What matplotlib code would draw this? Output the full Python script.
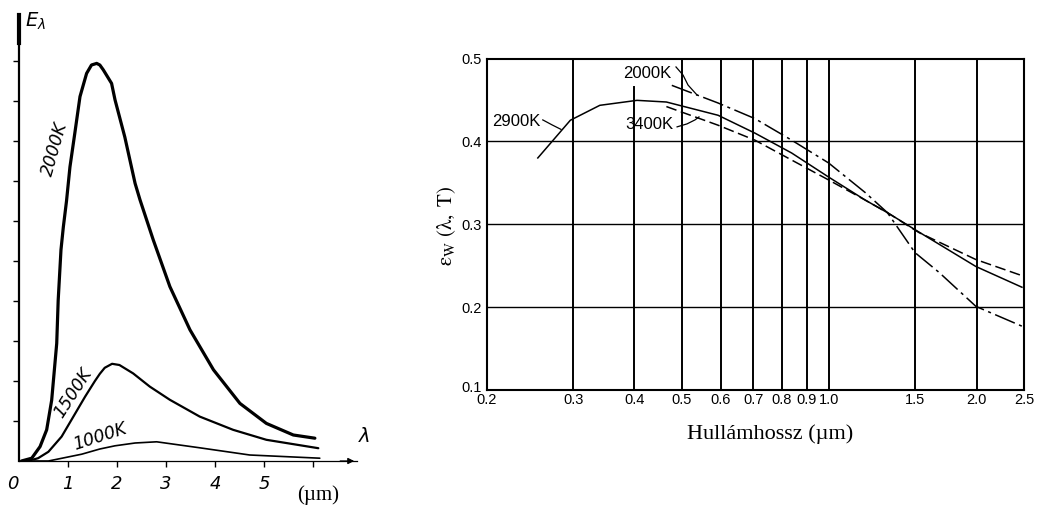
import matplotlib
matplotlib.use("Agg")
import matplotlib.pyplot as plt
from matplotlib.transforms import ScaledTranslation

plt.rcParams["mathtext.fontset"] = "stix"

# ---------------- data ----------------
# Left panel: spectral emittance E_lambda (arbitrary units) vs wavelength (um)
lam_2000 = [0.05, 0.26, 0.43, 0.565, 0.667, 0.77, 0.80, 0.857, 0.905, 0.97, 1.04, 1.14,
            1.245, 1.38, 1.48, 1.586, 1.65, 1.72, 1.89, 1.96, 2.16, 2.37, 2.47, 2.74,
            3.08, 3.49, 3.97, 4.51, 5.05, 5.6, 6.04]
e_2000 = [0.0, 0.07, 0.36, 0.78, 1.52, 2.94, 4.02, 5.28, 5.85, 6.5, 7.35, 8.2,
          9.11, 9.69, 9.9, 9.94, 9.9, 9.78, 9.44, 9.03, 8.1, 6.94, 6.53, 5.53,
          4.36, 3.28, 2.28, 1.44, 0.94, 0.65, 0.57]
lam_1500 = [0.19, 0.39, 0.6, 0.87, 1.11, 1.35, 1.55, 1.65, 1.75, 1.9, 2.05, 2.33,
            2.67, 3.08, 3.69, 4.37, 5.05, 6.11]
e_1500 = [0.0, 0.07, 0.23, 0.61, 1.11, 1.61, 2.0, 2.18, 2.33, 2.43, 2.4, 2.19,
          1.86, 1.53, 1.11, 0.78, 0.53, 0.32]
lam_1000 = [0.3, 0.6, 1.28, 1.65, 1.96, 2.37, 2.81, 3.69, 4.71, 6.14]
e_1000 = [0.0, 0.0, 0.17, 0.3, 0.38, 0.45, 0.48, 0.33, 0.15, 0.07]
left_xtick_labels = ["0", "1", "2", "3", "4", "5"]

# Right panel: emissivity of tungsten vs wavelength (um)
lam_2900 = [0.254, 0.296, 0.34, 0.405, 0.465, 0.593, 0.705, 0.838, 0.997, 1.186, 1.315, 1.497, 1.994, 2.476]
eps_2900 = [0.38, 0.4255, 0.4435, 0.4495, 0.4475, 0.4315, 0.41, 0.386, 0.357, 0.329, 0.314, 0.2935, 0.249, 0.224]
lam_3400 = [0.465, 0.593, 0.705, 0.838, 0.997, 1.186, 1.315, 1.525, 1.994, 2.476]
eps_3400 = [0.442, 0.4195, 0.4015, 0.3775, 0.3535, 0.329, 0.314, 0.29, 0.2574, 0.238]
lam_2000w = [0.477, 0.593, 0.705, 0.838, 0.997, 1.186, 1.315, 1.497, 1.676, 1.994, 2.476]
eps_2000w = [0.4676, 0.4463, 0.4275, 0.4015, 0.374, 0.338, 0.314, 0.2658, 0.242, 0.2009, 0.177]
right_xticks = [0.2, 0.3, 0.4, 0.5, 0.6, 0.7, 0.8, 0.9, 1.0, 1.5, 2.0, 2.5]
right_xtick_labels = ["0.2", "0.3", "0.4", "0.5", "0.6", "0.7", "0.8", "0.9", "1.0", "1.5", "2.0", "2.5"]
right_yticks = [0.1, 0.2, 0.3, 0.4, 0.5]
right_ytick_labels = ["0.1", "0.2", "0.3", "0.4", "0.5"]

W, H = 1040, 507
fig = plt.figure(figsize=(W / 100, H / 100), dpi=100)
fig.patch.set_facecolor("white")


def px_axes(x0, y0, x1, y1):
    """Axes rectangle given in pixel coordinates (top-left origin)."""
    return fig.add_axes([x0 / W, (H - y1) / H, (x1 - x0) / W, (y1 - y0) / H])


# ---------------- left panel ----------------
ax1 = px_axes(19, 15, 357, 461)
ax1.set_xlim(0, 6.9)
ax1.set_ylim(0, 11.15)
for s in ("top", "right"):
    ax1.spines[s].set_visible(False)
ax1.spines["left"].set_linewidth(1.6)
ax1.spines["bottom"].set_linewidth(0.9)
curve_kw = dict(color="black", solid_capstyle="round", solid_joinstyle="round")
ax1.plot(lam_2000, e_2000, lw=2.3, **curve_kw)
ax1.plot(lam_1500, e_1500, lw=1.6, **curve_kw)
ax1.plot(lam_1000, e_1000, lw=1.2, **curve_kw)
ax1.plot([0, 0], [10.45, 11.15], color="black", lw=3.0, clip_on=False)

ax1.set_yticks(range(1, 11))
ax1.set_yticklabels([])
ax1.tick_params(axis="y", direction="out", length=4, width=1)
ax1.set_xticks(range(1, 7))
ax1.set_xticklabels([])
ax1.tick_params(axis="x", direction="out", length=4, width=1)

ax1.annotate("", xy=(6.9, 0), xytext=(6.5, 0),
             arrowprops=dict(arrowstyle="-|>", lw=0.9, color="black", mutation_scale=9),
             annotation_clip=False)

for i, lab in enumerate(left_xtick_labels):
    ax1.text(i - (0.12 if i == 0 else 0), -0.58, lab, ha="center", va="center",
             fontsize=13, style="italic", family="DejaVu Sans", clip_on=False)
ax1.text(6.1, -0.85, "(µm)", ha="center", va="center", fontsize=15,
         family="Liberation Serif", clip_on=False)
ax1.text(7.05, 0.6, r"$\lambda$", ha="center", va="center", fontsize=14,
         math_fontfamily="dejavusans", clip_on=False)
ax1.text(0.12, 11.0, r"$E_\lambda$", ha="left", va="center", fontsize=14,
         math_fontfamily="dejavusans", clip_on=False)

lbl_kw = dict(ha="center", va="center", fontsize=12.5, style="italic", family="DejaVu Sans")
ax1.text(0.74, 7.8, "2000K", rotation=74, **lbl_kw)
ax1.text(1.11, 1.7, "1500K", rotation=57, **lbl_kw)
ax1.text(1.65, 0.62, "1000K", rotation=18, **lbl_kw)

# ---------------- right panel ----------------
ax2 = px_axes(487, 58.5, 1024, 390)
ax2.set_xscale("log")
ax2.set_xlim(0.2, 2.5)
ax2.set_ylim(0.1, 0.5)
for s in ax2.spines.values():
    s.set_linewidth(1.5)

for gx in right_xticks[1:-1]:
    top = 0.466 if gx == 0.4 else 0.5
    ax2.plot([gx, gx], [0.1, top], color="black", lw=1.4, zorder=1)
for gy in right_yticks[1:-1]:
    ax2.axhline(gy, color="black", lw=1.0, zorder=1)

ax2.plot(lam_2900, eps_2900, color="black", lw=1.1, zorder=3)
ax2.plot(lam_3400, eps_3400, color="black", lw=1.1, dashes=(7, 3), zorder=3)
ax2.plot(lam_2000w, eps_2000w, color="black", lw=1.1, dashes=(14, 3, 2, 3), zorder=3)

ax2.set_xticks(right_xticks)
ax2.set_xticklabels(right_xtick_labels)
ax2.minorticks_off()
ax2.set_yticks(right_yticks)
ax2.set_yticklabels(right_ytick_labels)
ax2.tick_params(axis="x", length=0, labelsize=10.5, pad=2)
ax2.tick_params(axis="y", length=0, labelsize=10.5, pad=4)
for t in ax2.get_xticklabels() + ax2.get_yticklabels():
    t.set_family("Liberation Sans")
# nudge the corner label up so it clears "0.2" below it
lab01 = ax2.get_yticklabels()[0]
lab01.set_transform(lab01.get_transform() + ScaledTranslation(0, 3 / 100, fig.dpi_scale_trans))

fig.text(770 / W, 1 - 434 / H, "Hullámhossz (µm)", ha="center", va="center",
         family="Liberation Serif", fontsize=16)
fig.text(447 / W, 1 - 226 / H, r"$\mathrm{\varepsilon_W\ (\lambda,\ T)}$", ha="center",
         va="center", rotation=90, fontsize=15)

lab_kw = dict(fontsize=12, family="Liberation Sans", ha="center", va="center", zorder=4)
ax2.text(0.4246, 0.4813, "2000K", **lab_kw)
ax2.text(0.429, 0.420, "3400K", **lab_kw)
ax2.text(0.230, 0.4239, "2900K", **lab_kw)

# leader lines from the labels to their curves
ax2.plot([0.4865, 0.5028, 0.5148, 0.537], [0.4898, 0.4801, 0.468, 0.456], color="black", lw=0.9, zorder=4)
ax2.plot([0.489, 0.5124, 0.532, 0.542], [0.4175, 0.4211, 0.4259, 0.4295], color="black", lw=0.9, zorder=4)
ax2.plot([0.260, 0.2716, 0.2832], [0.4259, 0.4199, 0.4145], color="black", lw=0.9, zorder=4)

fig.savefig("out.png", dpi=100, facecolor="white")
